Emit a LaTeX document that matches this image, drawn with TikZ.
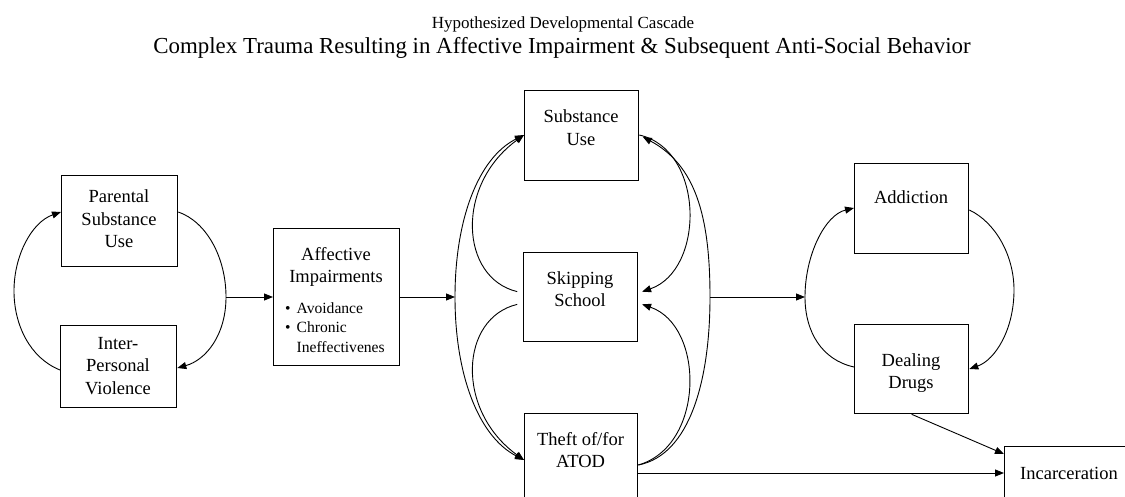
\documentclass[tikz,border=0pt]{standalone}
\usepackage{fontspec}
\setmainfont{Liberation Serif}
\usetikzlibrary{arrows.meta}
\begin{document}
\begin{tikzpicture}[x=1pt,y=-1pt,
  box/.style={draw, line width=1.3pt, inner sep=0pt, anchor=north west},
  txt/.style={inner sep=0pt, align=center, font=\rmfamily\fontsize{18.5}{22.5}\selectfont},
  conn/.style={line width=0.9pt},
  arr/.style={conn, -{Triangle[length=9pt,width=7pt]}}]
\useasboundingbox (0,0) rectangle (1125,497);
\clip (0,0) rectangle (1125,497);
% titles
\node[anchor=base, inner sep=0pt, font=\fontsize{17}{20}\selectfont] (title1) at (563,29) {Hypothesized Developmental Cascade};
\node[anchor=base, inner sep=0pt, font=\fontsize{22.9}{26}\selectfont] (title2) at (562,54) {Complex Trauma Resulting in Affective Impairment \& Subsequent Anti-Social Behavior};
% boxes
\node[box, minimum width=116pt, minimum height=91pt] (ps) at (61,175) {};
\node[box, minimum width=116pt, minimum height=82pt] (ipv) at (60,325) {};
\node[box, minimum width=126pt, minimum height=137pt] (aff) at (273,228) {};
\node[box, minimum width=114pt, minimum height=90pt] (su) at (524,90) {};
\node[box, minimum width=114pt, minimum height=89pt] (ss) at (523,252) {};
\node[box, minimum width=113pt, minimum height=95pt] (th) at (524,413) {};
\node[box, minimum width=114pt, minimum height=90pt] (ad) at (854,163) {};
\node[box, minimum width=114pt, minimum height=89pt] (dd) at (854,324) {};
\node[box, minimum width=150pt, minimum height=80pt] (inc) at (1004,446) {};
% texts
\node[txt] (tps) at (119,219) {Parental\\Substance\\Use};
\node[txt] (tipv) at (118,366) {Inter-\\Personal\\Violence};
\node[txt] (taff) at (336,267) {Affective\\Impairments};
\node[inner sep=0pt, anchor=west, font=\fontsize{15.6}{19.5}\selectfont] (tbul) at (285,329)
  {\begin{tabular}{@{}l@{\hspace{6pt}}l@{}}\textbullet & Avoidance\\ \textbullet & Chronic\\ & Ineffectivenes\end{tabular}};
\node[txt] (tsu) at (581,127.5) {Substance\\Use};
\node[txt] (tss) at (580,289) {Skipping\\School};
\node[txt] (tth) at (580.5,450) {Theft of/for\\ATOD};
\node[txt] (tad) at (911,197) {Addiction};
\node[txt] (tdd) at (911,373) {Dealing\\Drugs};
\node[txt] (tinc) at (1069,473) {Incarceration};
% junction points
\coordinate (l1) at (14,291);
\coordinate (r1) at (226,297);
\coordinate (lensL) at (455,297);
\coordinate (lensR) at (710,297);
\coordinate (l2) at (805,297);
\coordinate (r2) at (1014,290);
% left loop pair
\draw[arr] (ipv.west |- 0,370) .. controls (30,358) and (14,325) .. (l1)
  .. controls (14,255) and (32,222) .. (ps.west |- 0,212);
\draw[arr] (ps.east |- 0,212) .. controls (207,222) and (226,258) .. (r1)
  .. controls (226,335) and (206,360) .. (ipv.east |- 0,368);
\draw[arr] (r1) -- (aff.west |- r1);
\draw[arr] (aff.east |- 0,297) -- (lensL);
% lens left
\draw[arr] (lensL) .. controls (455,220) and (478,158) .. (su.west |- 0,135);
\draw[arr] (lensL) .. controls (455,374) and (478,436) .. (th.west |- 0,460);
\draw[arr, shorten <=6pt] (ss.west |- 0,293) .. controls (460,278) and (455,185) .. (su.west |- 0,135);
\draw[arr, shorten <=6pt] (ss.west |- 0,303) .. controls (460,318) and (455,410) .. (th.west |- 0,460);
% lens right
\draw[arr, shorten >=4pt] (th.east |- 0,465) .. controls (690,455) and (710,380) .. (lensR)
  .. controls (710,215) and (695,165) .. (su.east |- 0,135);
\draw[arr, shorten >=4pt] (su.east |- 0,135) .. controls (705,150) and (705,270) .. (ss.east |- 0,293);
\draw[arr, shorten >=4pt] (th.east |- 0,465) .. controls (705,446) and (705,326) .. (ss.east |- 0,303);
\draw[arr] (lensR) -- (l2);
% right loop pair
\draw[arr] (dd.west |- 0,367) .. controls (822,360) and (805,332) .. (l2)
  .. controls (805,255) and (825,215) .. (ad.west |- 0,208);
\draw[arr] (ad.east |- 0,210) .. controls (995,222) and (1014,255) .. (r2)
  .. controls (1014,330) and (995,360) .. (dd.east |- 0,369);
% to incarceration
\draw[arr] (dd.south) -- (inc.west |- 0,454);
\draw[arr] (th.east |- 0,473) -- (inc.west |- 0,473);
\end{tikzpicture}
\end{document}
